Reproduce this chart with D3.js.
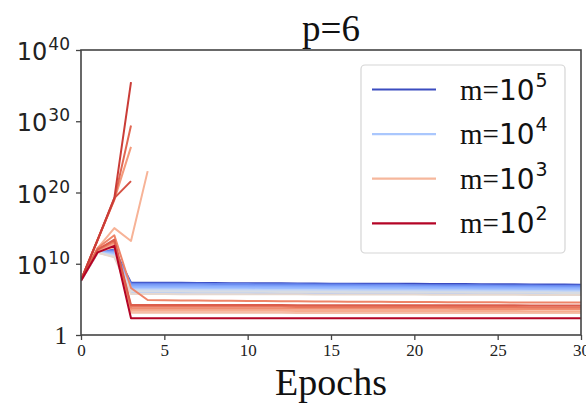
<!DOCTYPE html>
<html><head><meta charset="utf-8">
<script src="https://cdn.jsdelivr.net/npm/d3@7"></script>
<style>body{margin:0;background:#fff}svg{display:block}</style>
</head><body><svg id="c" width="586" height="406"></svg>
<script>
const epochs = [0,1,2,3,4,5,6,7,8,9,10,11,12,13,14,15,16,17,18,19,20,21,22,23,24,25,26,27,28,29,30];
const xTicks = [0,5,10,15,20,25,30];
const yTickExps = [0,10,20,30,40];
const legendExponents = [5,4,3,2];
const titleText = "p=6";
const xLabel = "Epochs";

// log10(m) of each run, in drawing order
const mExponents = [5.00,4.60,4.45,4.30,4.20,4.10,4.00,3.85,3.70,3.55,3.40,
                    3.08,2.96,2.90,2.75,2.66,2.60,2.51,2.42,2.36,2.30,2.18,2.00];

// training loss per epoch for each run (runs that diverge stop early)
const lossRuns = [
 [5.0e7,5.0e11,1.0e12,2.2e7,2.2e7,2.1e7,2.1e7,2.0e7,2.0e7,1.9e7,1.9e7,1.8e7,1.8e7,1.7e7,1.7e7,1.6e7,1.6e7,1.6e7,1.5e7,1.5e7,1.5e7,1.4e7,1.4e7,1.4e7,1.3e7,1.3e7,1.3e7,1.2e7,1.2e7,1.2e7,1.1e7],
 [4.8e7,4.8e11,8.0e11,1.6e7,1.6e7,1.5e7,1.5e7,1.5e7,1.4e7,1.4e7,1.4e7,1.3e7,1.3e7,1.3e7,1.2e7,1.2e7,1.2e7,1.1e7,1.1e7,1.1e7,1.0e7,1.0e7,1.0e7,9.6e6,9.4e6,9.2e6,9.0e6,8.7e6,8.4e6,8.2e6,8.0e6],
 [4.6e7,4.5e11,5.0e11,1.0e7,1.0e7,9.8e6,9.6e6,9.4e6,9.2e6,9.0e6,8.8e6,8.6e6,8.4e6,8.2e6,8.0e6,7.8e6,7.6e6,7.4e6,7.2e6,7.0e6,6.9e6,6.8e6,6.6e6,6.5e6,6.3e6,6.2e6,6.1e6,6.0e6,5.9e6,5.7e6,5.6e6],
 [4.5e7,4.2e11,4.0e11,7.1e6,7.0e6,6.9e6,6.8e6,6.7e6,6.5e6,6.4e6,6.2e6,6.1e6,6.0e6,5.9e6,5.7e6,5.6e6,5.5e6,5.3e6,5.2e6,5.1e6,5.0e6,4.9e6,4.8e6,4.7e6,4.6e6,4.5e6,4.4e6,4.3e6,4.2e6,4.1e6,4.0e6],
 [4.3e7,4.0e11,3.2e11,5.0e6,4.9e6,4.8e6,4.8e6,4.7e6,4.6e6,4.5e6,4.4e6,4.3e6,4.2e6,4.1e6,4.0e6,3.9e6,3.8e6,3.7e6,3.6e6,3.5e6,3.5e6,3.4e6,3.3e6,3.3e6,3.2e6,3.1e6,3.1e6,3.0e6,2.9e6,2.9e6,2.8e6],
 [4.2e7,4.0e11,2.5e11,3.5e6,3.4e6,3.4e6,3.3e6,3.3e6,3.2e6,3.1e6,3.1e6,3.0e6,3.0e6,2.9e6,2.9e6,2.8e6,2.8e6,2.7e6,2.6e6,2.6e6,2.5e6,2.5e6,2.4e6,2.4e6,2.3e6,2.3e6,2.2e6,2.2e6,2.1e6,2.1e6,2.0e6],
 [4.0e7,4.0e11,2.0e11,8.9e5,8.8e5,8.7e5,8.6e5,8.5e5,8.4e5,8.3e5,8.2e5,8.1e5,8.0e5,7.9e5,7.8e5,7.7e5,7.6e5,7.5e5,7.4e5,7.3e5,7.2e5,7.1e5,7.0e5,6.9e5,6.8e5,6.7e5,6.6e5,6.5e5,6.4e5,6.4e5,6.3e5],
 [4.0e7,3.8e11,1.6e11,2.5e6,2.5e6,2.4e6,2.4e6,2.3e6,2.3e6,2.2e6,2.2e6,2.1e6,2.1e6,2.0e6,2.0e6,1.9e6,1.9e6,1.9e6,1.8e6,1.8e6,1.8e6,1.7e6,1.7e6,1.7e6,1.6e6,1.6e6,1.6e6,1.5e6,1.5e6,1.4e6,1.4e6],
 [4.0e7,3.8e11,1.3e11,1.8e6,1.8e6,1.7e6,1.7e6,1.7e6,1.6e6,1.6e6,1.6e6,1.5e6,1.5e6,1.5e6,1.4e6,1.4e6,1.4e6,1.3e6,1.3e6,1.3e6,1.3e6,1.2e6,1.2e6,1.2e6,1.2e6,1.1e6,1.1e6,1.1e6,1.1e6,1.0e6,1.0e6],
 [4.0e7,3.5e11,1.0e11,1.30e6,1.28e6,1.26e6,1.24e6,1.22e6,1.20e6,1.18e6,1.16e6,1.14e6,1.12e6,1.10e6,1.08e6,1.06e6,1.04e6,1.02e6,1.00e6,9.8e5,9.6e5,9.4e5,9.2e5,9.0e5,8.8e5,8.6e5,8.4e5,8.3e5,8.2e5,8.0e5,7.9e5],
 [4.0e7,3.5e11,8.0e10,5.6e5,5.5e5,5.5e5,5.4e5,5.4e5,5.3e5,5.3e5,5.2e5,5.2e5,5.1e5,5.1e5,5.0e5,5.0e5,4.9e5,4.8e5,4.8e5,4.7e5,4.7e5,4.6e5,4.5e5,4.5e5,4.4e5,4.4e5,4.3e5,4.2e5,4.1e5,4.1e5,4.0e5],
 [4.5e7,5.0e11,2.0e12,1.3e3,1.3e3,1.3e3,1.3e3,1.3e3,1.3e3,1.3e3,1.3e3,1.3e3,1.3e3,1.25e3,1.25e3,1.25e3,1.25e3,1.25e3,1.25e3,1.25e3,1.25e3,1.25e3,1.25e3,1.2e3,1.2e3,1.2e3,1.2e3,1.2e3,1.2e3,1.2e3,1.2e3],
 [5.0e7,1.6e12,1.0e15,1.6e13,1.0e23],
 [4.8e7,6.0e11,5.0e12,2.5e3,2.5e3,2.5e3,2.5e3,2.5e3,2.5e3,2.5e3,2.5e3,2.5e3,2.5e3,2.4e3,2.4e3,2.4e3,2.4e3,2.4e3,2.4e3,2.4e3,2.4e3,2.4e3,2.4e3,2.3e3,2.3e3,2.3e3,2.3e3,2.2e3,2.2e3,2.2e3,2.2e3],
 [5.0e7,2.5e13,1.0e19,2.5e26],
 [5.0e7,8.0e11,1.0e13,5.0e3,5.0e3,5.0e3,5.0e3,5.0e3,5.0e3,5.0e3,5.0e3,5.0e3,5.0e3,4.8e3,4.8e3,4.8e3,4.8e3,4.8e3,4.8e3,4.8e3,4.8e3,4.8e3,4.8e3,4.6e3,4.6e3,4.6e3,4.6e3,4.5e3,4.5e3,4.5e3,4.5e3],
 [5.0e7,1.6e12,1.0e14,4.0e6,8.0e4,7.6e4,7.2e4,6.9e4,6.6e4,6.3e4,6.0e4,5.8e4,5.6e4,5.4e4,5.2e4,5.0e4,4.8e4,4.7e4,4.5e4,4.4e4,4.3e4,4.2e4,4.1e4,4.0e4,3.9e4,3.8e4,3.7e4,3.7e4,3.6e4,3.6e4,3.5e4],
 [5.0e7,1.0e12,1.6e13,8.9e3,8.9e3,8.9e3,8.9e3,8.9e3,8.9e3,8.9e3,8.9e3,8.9e3,8.9e3,8.5e3,8.5e3,8.5e3,8.5e3,8.5e3,8.5e3,8.5e3,8.5e3,8.5e3,8.5e3,8.2e3,8.2e3,8.2e3,8.2e3,7.9e3,7.9e3,7.9e3,7.9e3],
 [5.0e7,2.5e13,1.0e19,2.5e29],
 [5.0e7,1.0e12,2.5e13,1.6e4,1.6e4,1.6e4,1.6e4,1.6e4,1.6e4,1.6e4,1.6e4,1.6e4,1.6e4,1.5e4,1.5e4,1.5e4,1.5e4,1.5e4,1.5e4,1.5e4,1.5e4,1.5e4,1.5e4,1.45e4,1.45e4,1.45e4,1.45e4,1.4e4,1.4e4,1.4e4,1.4e4],
 [5.0e7,2.0e13,1.6e19,4.0e21],
 [5.0e7,2.5e13,1.6e19,3.2e35],
 [4.0e7,4.0e11,3.2e12,2.2e2,2.2e2,2.2e2,2.2e2,2.2e2,2.2e2,2.2e2,2.2e2,2.2e2,2.2e2,2.2e2,2.2e2,2.2e2,2.2e2,2.2e2,2.2e2,2.2e2,2.2e2,2.2e2,2.2e2,2.2e2,2.2e2,2.2e2,2.2e2,2.2e2,2.2e2,2.2e2,2.2e2]
];

// coolwarm colormap stops (Moreland)
const coolwarmStops = ["rgb(59,76,192)","rgb(77,104,215)","rgb(98,130,234)","rgb(119,154,247)","rgb(141,176,254)",
  "rgb(163,194,255)","rgb(184,208,249)","rgb(204,217,238)","rgb(221,221,221)","rgb(236,211,197)","rgb(245,196,173)",
  "rgb(247,177,148)","rgb(244,154,123)","rgb(236,127,99)","rgb(222,96,77)","rgb(203,62,56)","rgb(180,4,38)"];

const svg = d3.select('#c');
const P = {l:81, r:581, t:50, b:335};
const x = d3.scaleLinear().domain([0,30]).range([P.l, P.r]);
const y = d3.scaleLog().domain([1,1e40]).range([P.b, P.t]);
const cmap = d3.piecewise(d3.interpolateRgb, coolwarmStops);
const color = e => cmap((5 - e) / 3);

svg.append('defs').append('clipPath').attr('id','clip')
  .append('rect').attr('x',P.l).attr('y',P.t).attr('width',P.r-P.l).attr('height',P.b-P.t);

const line = d3.line().x((d,i)=>x(epochs[i])).y(d=>y(d));
svg.append('g').attr('clip-path','url(#clip)').selectAll('path').data(lossRuns).join('path')
  .attr('d', line).attr('fill','none')
  .attr('stroke',(d,i)=>color(mExponents[i]))
  .attr('stroke-width',2).attr('stroke-linejoin','round');

// axes
const axCol = '#444';
const gx = svg.append('g').attr('transform',`translate(0,${P.b})`)
  .call(d3.axisBottom(x).tickValues(xTicks).tickSize(5).tickPadding(4));
gx.select('.domain').remove();
gx.selectAll('line').attr('stroke',axCol).attr('stroke-width',1.3);
gx.selectAll('text').attr('font-family','"Liberation Serif", serif').attr('font-size',17).attr('fill','#222');

const gy = svg.append('g').attr('transform',`translate(${P.l},0)`)
  .call(d3.axisLeft(y).tickValues(yTickExps.map(e=>Math.pow(10,e))).tickSize(5).tickFormat(''));
gy.select('.domain').remove();
gy.selectAll('line').attr('stroke',axCol).attr('stroke-width',1.3);

yTickExps.forEach(e=>{
  const yy = y(Math.pow(10,e));
  if (e === 0) {
    svg.append('text').attr('x',67).attr('y',yy+9).attr('text-anchor','end')
      .attr('font-family','"Liberation Serif", serif').attr('font-size',25).attr('fill','#222').text('1');
  } else {
    const t = svg.append('text').attr('x',70).attr('y',yy+10).attr('text-anchor','end')
      .attr('font-family','"DejaVu Sans", sans-serif').attr('fill','#222');
    t.append('tspan').attr('font-size',24).text('10');
    t.append('tspan').attr('font-size',17).attr('dy',-10).attr('dx',1).text(String(e));
  }
});

svg.append('rect').attr('x',P.l).attr('y',P.t).attr('width',P.r-P.l).attr('height',P.b-P.t)
  .attr('fill','none').attr('stroke',axCol).attr('stroke-width',1.6);

// title & x label
svg.append('text').attr('x',(P.l+P.r)/2).attr('y',41).attr('text-anchor','middle')
  .attr('font-family','"Liberation Serif", serif').attr('font-size',37).attr('fill','#111').text(titleText);
svg.append('text').attr('x',(P.l+P.r)/2).attr('y',395).attr('text-anchor','middle')
  .attr('font-family','"Liberation Serif", serif').attr('font-size',38).attr('fill','#111').text(xLabel);

// legend
const lg = svg.append('g');
lg.append('rect').attr('x',361).attr('y',65).attr('width',204).attr('height',188).attr('rx',4)
  .attr('fill','#fff').attr('fill-opacity',0.85).attr('stroke','#d5d5d5').attr('stroke-width',1.2);
legendExponents.forEach((e,i)=>{
  const yy = 89.5 + i*44.6;
  lg.append('line').attr('x1',372).attr('x2',436).attr('y1',yy).attr('y2',yy)
    .attr('stroke',color(e)).attr('stroke-width',2.2);
  const t = lg.append('text').attr('x',460).attr('y',yy+10).attr('fill','#111');
  t.append('tspan').attr('font-family','"Liberation Serif", serif').attr('font-size',29).text('m=');
  t.append('tspan').attr('font-family','"DejaVu Sans", sans-serif').attr('font-size',28).text('10');
  t.append('tspan').attr('font-family','"DejaVu Sans", sans-serif').attr('font-size',19).attr('dy',-13).attr('dx',1).text(String(e));
});
</script></body></html>
